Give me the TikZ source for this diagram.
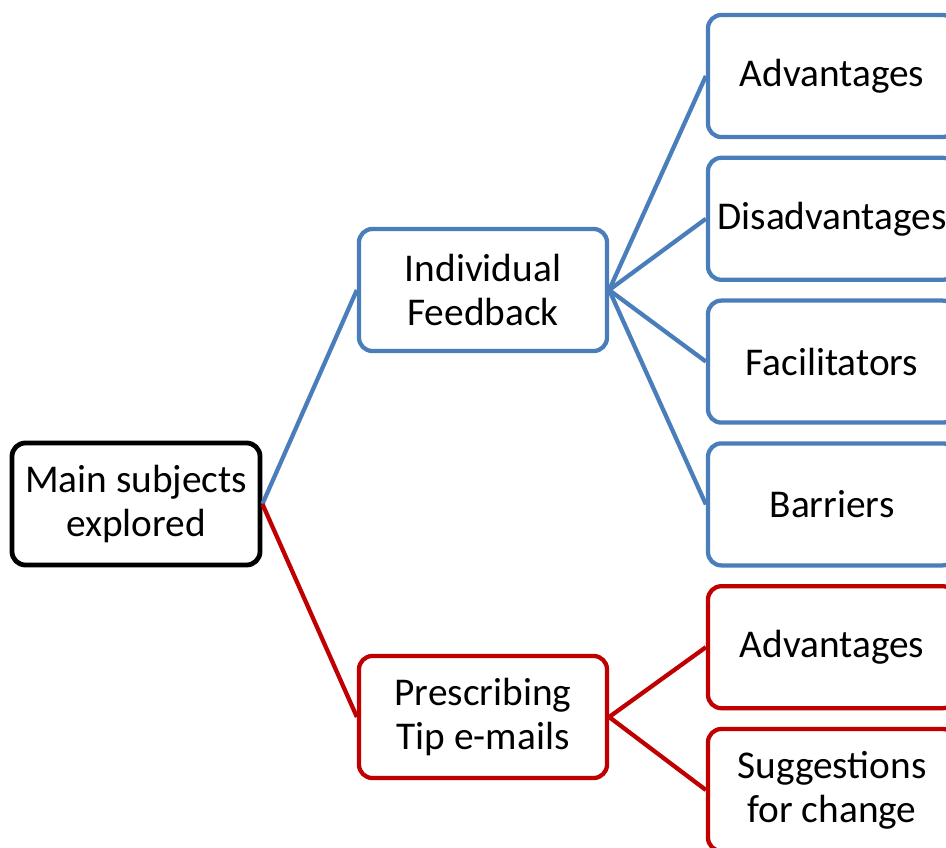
\documentclass[tikz,border=0pt]{standalone}
\usepackage{fontspec}
\setmainfont{Carlito}
\usetikzlibrary{positioning}
\definecolor{fbblue}{HTML}{4A7EBB}
\definecolor{tipred}{HTML}{C00000}

\begin{document}
\begin{tikzpicture}[
  x=0.75pt, y=-0.75pt,
  box/.style={draw, fill=white, rounded corners=10pt, line width=3.2pt, minimum width=186pt, minimum height=91.5pt, inner sep=2pt, align=center, font=\fontsize{29.5}{33}\selectfont},
  fbbox/.style={box, draw=fbblue},
  tipbox/.style={box, draw=tipred},
  fbline/.style={fbblue, line width=3.2pt},
  tipline/.style={tipred, line width=3.2pt},
  node distance=12.4pt,
]
\useasboundingbox (0,0) rectangle (946,848);
% ---- root ----
\node[box, draw=black, line width=3.6pt] (main) at (136,504) {Main subjects\\explored};

% ---- second level ----
\node[fbbox] (fb) at (483,290) {Individual\\Feedback};
\node[tipbox] (tip) at (483,717) {Prescribing\\Tip e-mails};

% ---- right column: feedback themes ----
\node[fbbox] (fbadv) at (832,76) {Advantages};
\node[fbbox, below=of fbadv] (fbdis) {Disadvantages};
\node[fbbox, below=of fbdis] (fbfac) {Facilitators};
\node[fbbox, below=of fbfac] (fbbar) {Barriers};

% ---- right column: tip e-mail themes ----
\node[tipbox, below=of fbbar] (tipadv) {Advantages};
\node[tipbox, below=of tipadv] (tipsug) {Suggestions\\for change};

% ---- connectors ----
\draw[fbline] (main.east) -- (fb.west);
\draw[tipline] (main.east) -- (tip.west);
\foreach \t in {fbadv,fbdis,fbfac,fbbar}
  \draw[fbline] (fb.east) -- (\t.west);
\foreach \t in {tipadv,tipsug}
  \draw[tipline] (tip.east) -- (\t.west);
\end{tikzpicture}
\end{document}
